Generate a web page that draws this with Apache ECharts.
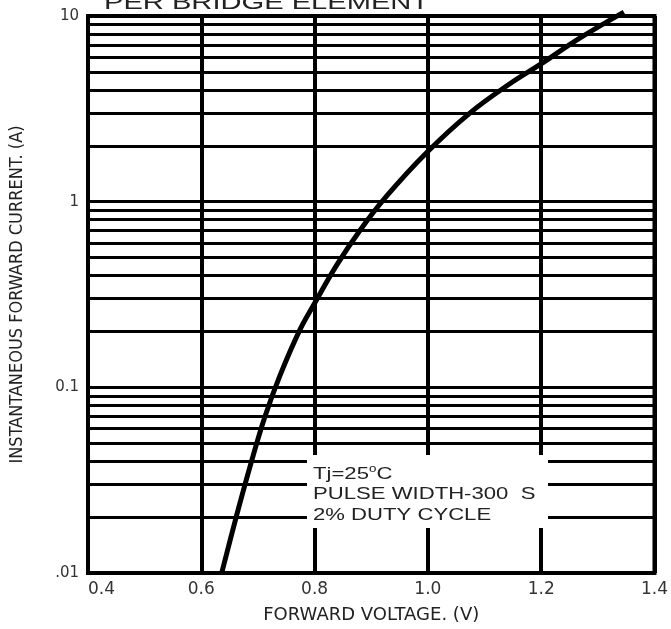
<!DOCTYPE html>
<html>
<head>
<meta charset="utf-8">
<script src="https://cdn.jsdelivr.net/npm/echarts@6/dist/echarts.min.js"></script>
<style>
  html, body { margin: 0; padding: 0; background: #fff; }
  #chart { width: 671px; height: 629px; }
</style>
</head>
<body>
<div id="chart"></div>
<script>
// forward voltage (V) vs instantaneous forward current (A)
const voltage = [0.636, 0.661, 0.686, 0.712, 0.739, 0.774, 0.799, 0.839,
                 0.880, 0.927, 0.998, 1.074, 1.144, 1.199, 1.268, 1.346];
const current = [0.01, 0.0197, 0.0374, 0.069, 0.116, 0.204, 0.280, 0.455,
                 0.70, 1.07, 1.84, 3.0, 4.3, 5.5, 7.6, 10.5];

// minor log grid lines (2..9 of each decade)
const minorGrid = [0.02, 0.03, 0.04, 0.05, 0.06, 0.07, 0.08, 0.09,
                   0.2, 0.3, 0.4, 0.5, 0.6, 0.7, 0.8, 0.9,
                   2, 3, 4, 5, 6, 7, 8, 9];
const yTickLabels = { 0.01: '.01', 0.1: '0.1', 1: '1', 10: '10' };

const noteLines = ['Tj=25{sup|o}C', 'PULSE WIDTH-300  S', '2% DUTY CYCLE'];

const FONT = 'DejaVu Sans, Liberation Sans, Arial';

const chart = echarts.init(document.getElementById('chart'));
chart.setOption({
  animation: false,
  grid: {
    left: 87, right: 16, top: 16, bottom: 55,
    show: true, borderColor: '#000', borderWidth: 4
  },
  xAxis: {
    type: 'value',
    min: 0.4, max: 1.4, interval: 0.2,
    name: 'FORWARD VOLTAGE. (V)',
    nameLocation: 'middle', nameGap: 33,
    nameTextStyle: { fontFamily: FONT, fontSize: 18, color: '#222' },
    axisLine: { show: false },
    axisTick: { show: false },
    axisLabel: {
      fontFamily: FONT, fontSize: 17, color: '#333', margin: 8,
      alignMinLabel: 'left',
      formatter: v => v.toFixed(1)
    },
    splitLine: { show: true, lineStyle: { color: '#000', width: 4 } }
  },
  yAxis: {
    type: 'log', logBase: 10,
    min: 0.01, max: 10,
    name: 'INSTANTANEOUS FORWARD CURRENT. (A)',
    nameLocation: 'middle', nameGap: 62,
    nameTextStyle: { fontFamily: 'DejaVu Sans Condensed, Liberation Sans, Arial', fontSize: 18, color: '#222' },
    axisLine: { show: false },
    axisTick: { show: false },
    axisLabel: {
      fontFamily: FONT, fontSize: 15, color: '#333', margin: 9,
      formatter: v => yTickLabels[v] !== undefined ? yTickLabels[v] : ''
    },
    splitLine: { show: true, lineStyle: { color: '#000', width: 3 } }
  },
  graphic: [
    {
      type: 'text', x: 104, y: 3, scaleX: 1.42, z: 100,
      style: {
        text: 'PER BRIDGE ELEMENT', fontFamily: 'Liberation Sans, Arial', fontSize: 20.5,
        fill: '#222', align: 'left', verticalAlign: 'middle'
      }
    },
    {
      type: 'rect', z: 100,
      shape: { x: 307, y: 455, width: 241, height: 73 },
      style: { fill: '#fff' }
    },
    {
      type: 'text', x: 313, y: 464, scaleX: 1.34, z: 101,
      style: {
        text: noteLines.join('\n'),
        fontFamily: 'Liberation Sans, Arial', fontSize: 16.5, lineHeight: 20.5, fill: '#222',
        align: 'left', verticalAlign: 'top',
        rich: { sup: { fontSize: 10, verticalAlign: 'top', padding: [0, 0, 8, 0], fill: '#222' } }
      }
    }
  ],
  series: [
    {
      type: 'line',
      data: [],
      silent: true,
      markLine: {
        silent: true, symbol: 'none', label: { show: false },
        lineStyle: { color: '#000', width: 3, type: 'solid' },
        data: minorGrid.map(v => ({ yAxis: v }))
      }
    },
    {
      type: 'line',
      data: voltage.map((v, i) => [v, current[i]]),
      smooth: 0.4,
      showSymbol: false,
      clip: false,
      z: 10,
      lineStyle: { color: '#000', width: 5 }
    }
  ]
});
</script>
</body>
</html>
